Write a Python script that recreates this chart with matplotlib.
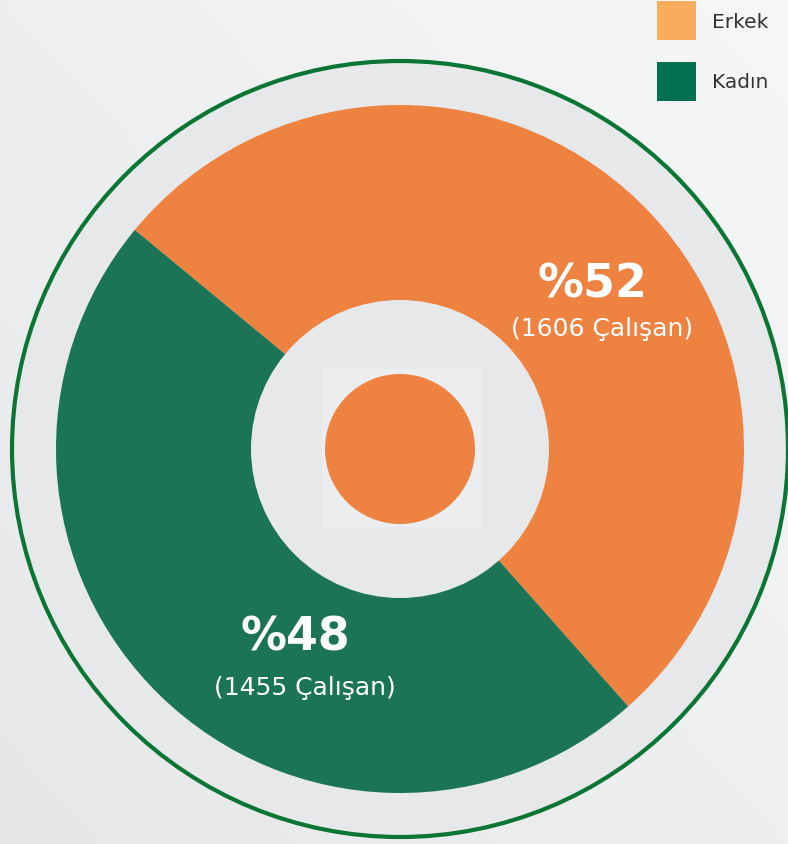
import numpy as np
import matplotlib
matplotlib.use("Agg")
import matplotlib.pyplot as plt
from matplotlib.patches import Circle, Rectangle

# ---- data ----
categories = ["Erkek", "Kadın"]
counts = [1606, 1455]
wedge_colors = ["#EE8341", "#1B7455"]
legend_colors = ["#F9AC5B", "#026F4F"]
count_label = "Çalışan"

W, H = 788, 845
fig = plt.figure(figsize=(W / 100, H / 100), dpi=100)
ax = fig.add_axes([0, 0, 1, 1])

# background gradient
yy, xx = np.mgrid[0:1:200j, 0:1:200j]
g = 0.5 * (xx + yy)  # top-right brighter
bg = np.empty((200, 200, 3))
c0 = np.array([0xE6, 0xE7, 0xE9]) / 255
c1 = np.array([0xF6, 0xF7, 0xF7]) / 255
for i in range(3):
    bg[..., i] = c0[i] + (c1[i] - c0[i]) * g
ax.imshow(bg, extent=[0, W, 0, H], origin="lower", zorder=0, aspect="auto")

cx, cy = 400, H - 450

ax.add_patch(Circle((cx, cy), 388, facecolor="#E7E8E9", edgecolor="#0B7536",
                    linewidth=3, zorder=1))

total = sum(counts)
span0 = counts[0] / total * 360
mid0 = 46
start = mid0 - span0 / 2
wedges, _ = ax.pie(counts, colors=wedge_colors, center=(cx, cy), radius=344,
                   startangle=start, counterclock=True,
                   wedgeprops=dict(linewidth=0))
for w in wedges:
    w.set_zorder(2)

ax.add_patch(Circle((cx, cy), 149, facecolor="#E7E8E9", edgecolor="none", zorder=3))
ax.add_patch(Rectangle((322, H - 528), 160, 158, facecolor="#ECEDEE",
                       edgecolor="none", zorder=3.5))
ax.add_patch(Circle((cx, cy), 75, facecolor=wedge_colors[0], edgecolor="none", zorder=4))

pcts = [round(c / total * 100) for c in counts]
label_pos = [(592, 285, 329), (295, 638, 688)]
for (x, y1, y2), p, c in zip(label_pos, pcts, counts):
    ax.text(x, H - y1, f"%{p}", color="white", fontsize=33, fontweight="bold",
            family="DejaVu Sans", ha="center", va="center", zorder=5)
    ax.text(x + 10, H - y2, f"({c} {count_label})", color="white", fontsize=18,
            family="DejaVu Sans", ha="center", va="center", zorder=5)

# legend
for i, (cat, col) in enumerate(zip(categories, legend_colors)):
    top = 2 + i * 61
    ax.add_patch(Rectangle((657, H - top - 39), 39, 39, facecolor=col,
                           edgecolor="none", zorder=5))
    ax.text(712, H - top - 20, cat, color="#333333", fontsize=14.5,
            family="DejaVu Sans", ha="left", va="center", zorder=5)

ax.set_xlim(0, W)
ax.set_ylim(0, H)
ax.set_aspect("auto")
ax.axis("off")
fig.savefig("out.png", dpi=100)
